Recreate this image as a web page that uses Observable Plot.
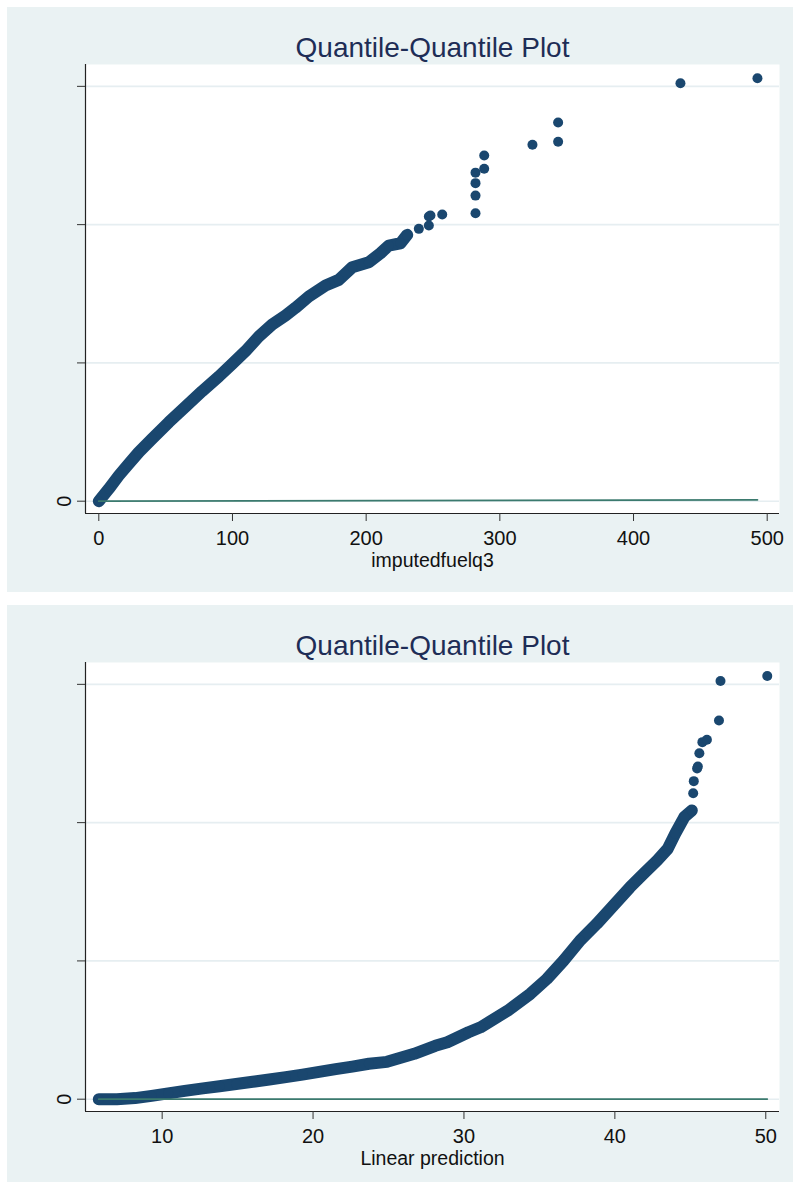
<!DOCTYPE html>
<html>
<head>
<meta charset="utf-8">
<script src="https://cdn.jsdelivr.net/npm/d3@7"></script>
<script src="https://cdn.jsdelivr.net/npm/@observablehq/plot@0.6"></script>
<style>
  html, body { margin: 0; padding: 0; background: #ffffff; overflow: hidden; }
  .panel { position: absolute; left: 7px; width: 786px; background: #eaf2f3; overflow: hidden; }
  #qq-fuel { top: 7px; height: 585px; }
  #qq-pred { top: 605px; height: 577px; }
</style>
</head>
<body>
<div class="panel" id="qq-fuel"></div>
<div class="panel" id="qq-pred"></div>
<script>
// ---- Shared vertical axis ----
const yTicks = [0, 50000, 100000, 150000];
const yLabelled = [0];            // only the zero tick carries a label
const yDomain = [-4450, 157900];

// ---- Panel 1: quantiles against imputedfuelq3 ----
const fuelTitle = "Quantile-Quantile Plot";
const fuelXLabel = "imputedfuelq3";
const fuelXTicks = [0, 100, 200, 300, 400, 500];
// dense run of quantile pairs
const fuelBandX = [0, 7.5, 15.0, 22.4, 29.9, 39.9, 52.4, 64.9, 77.3, 89.8, 99.8, 109.7, 119.7, 129.7,
  139.7, 147.1, 157.1, 169.6, 179.5, 189.6, 202.0, 210.7, 216.9, 225.7, 230.7];
const fuelBandY = [0, 4480, 9290, 13520, 17710, 22560, 28560, 34230, 39770, 45080, 49670, 54230, 59540, 63880,
  67130, 69910, 74000, 77980, 80030, 84590, 86400, 89650, 92440, 93270, 96300];
// sparse upper tail
const fuelTailX = [239.4, 246.9, 246.9, 248.1, 256.9, 281.8, 281.8, 281.8, 281.8, 288.3, 288.3, 324.4, 343.6, 343.6, 435.1, 492.7];
const fuelTailY = [98470, 99670, 102920, 103300, 103640, 104100, 110500, 115000, 118800, 120200, 125000, 128900, 130000, 136900, 151100, 152900];

// ---- Panel 2: quantiles against the linear prediction ----
const predTitle = "Quantile-Quantile Plot";
const predXLabel = "Linear prediction";
const predXTicks = [10, 20, 30, 40, 50];
const predBandX = [5.8, 7.0, 8.2, 9.3, 10.4, 11.5, 12.7, 13.8, 14.9, 16.0, 17.1, 18.2, 19.3, 20.4, 21.5, 22.6,
  23.7, 24.9, 26.7, 28.1, 28.9, 30.3, 31.1, 32.9, 34.4, 35.5, 36.6, 37.7, 38.8, 39.9, 41.0, 41.9, 42.8, 43.5, 44.0, 44.6, 45.1];
const predBandY = [0, 0, 400, 1200, 2100, 3000, 3900, 4700, 5500, 6300, 7100, 8000, 8900, 9900, 10900, 11800,
  12800, 13500, 16400, 19300, 20600, 24200, 26000, 32000, 38100, 43500, 50100, 57400, 63400, 70000, 76600, 81500, 86300, 90500, 96000, 102000, 104400];
const predTailX = [45.19, 45.23, 45.45, 45.5, 45.6, 45.8, 46.1, 46.9, 47.0, 50.1];
const predTailY = [110600, 115000, 119600, 120300, 125100, 129100, 130000, 136900, 151200, 153000];

const navy = "#1a476f";
const refColor = "#3b7a6e";
const gridColor = "#e6eef1";
const axisColor = "#222";
const fontFamily = "'Liberation Sans', Arial, Helvetica, sans-serif";

function qqPanel(el, {title, xLabel, xTicks, xDomain, bandX, bandY, tailX, tailY, height}) {
  const band = bandX.map((x, i) => ({x, y: bandY[i]}));
  const tail = tailX.map((x, i) => ({x, y: tailY[i]}));
  const all = band.concat(tail);
  // 45-degree reference line across the range of the x quantiles
  const [lo, hi] = d3.extent(all, d => d.x);
  const ref = [{x: lo, y: lo}, {x: hi, y: hi}];

  const chart = Plot.plot({
    width: 786,
    height,
    marginLeft: 78,
    marginRight: 14,
    marginTop: 57,
    marginBottom: height - 506,
    style: {background: "transparent", fontFamily, fontSize: "20px", color: "#111", overflow: "visible"},
    x: {domain: xDomain},
    y: {domain: yDomain},
    marks: [
      Plot.frame({fill: "white", stroke: null}),
      Plot.gridY(yTicks, {stroke: gridColor, strokeOpacity: 1, strokeWidth: 1.6}),
      // thousands of overlapping markers merge into a solid band
      Plot.line(band, {x: "x", y: "y", stroke: navy, strokeWidth: 12, strokeLinecap: "round", strokeLinejoin: "round"}),
      Plot.dot(all, {x: "x", y: "y", r: 5, fill: navy}),
      Plot.line(ref, {x: "x", y: "y", stroke: refColor, strokeWidth: 1.8}),
      Plot.ruleX([xDomain[0]], {stroke: axisColor, strokeWidth: 1.2}),
      Plot.ruleY([yDomain[0]], {stroke: axisColor, strokeWidth: 1.2}),
      Plot.axisX(xTicks, {tickSize: 8, tickPadding: 9, stroke: "#333", label: null, fontSize: 20}),
      Plot.axisY(yTicks, {tickSize: 8, tickFormat: () => "", stroke: "#333", label: null}),
      Plot.text(yLabelled, {y: d => d, text: d => String(d), frameAnchor: "left", rotate: -90, dx: -15,
        textAnchor: "middle", lineAnchor: "bottom", fontSize: 20, fill: "#111"}),
      Plot.text([xLabel], {text: d => d, frameAnchor: "bottom", dy: 53, lineAnchor: "bottom", fontSize: 19.5, fill: "#111"}),
      Plot.text([title], {text: d => d, frameAnchor: "top", dy: -8, lineAnchor: "bottom", fontSize: 28, fill: "#1e2d56"})
    ]
  });
  el.appendChild(chart);
}

qqPanel(document.getElementById("qq-fuel"), {
  title: fuelTitle, xLabel: fuelXLabel, xTicks: fuelXTicks, xDomain: [-9.95, 509.2],
  bandX: fuelBandX, bandY: fuelBandY, tailX: fuelTailX, tailY: fuelTailY, height: 585
});
qqPanel(document.getElementById("qq-pred"), {
  title: predTitle, xLabel: predXLabel, xTicks: predXTicks, xDomain: [4.92, 50.91],
  bandX: predBandX, bandY: predBandY, tailX: predTailX, tailY: predTailY, height: 577
});
</script>
</body>
</html>
